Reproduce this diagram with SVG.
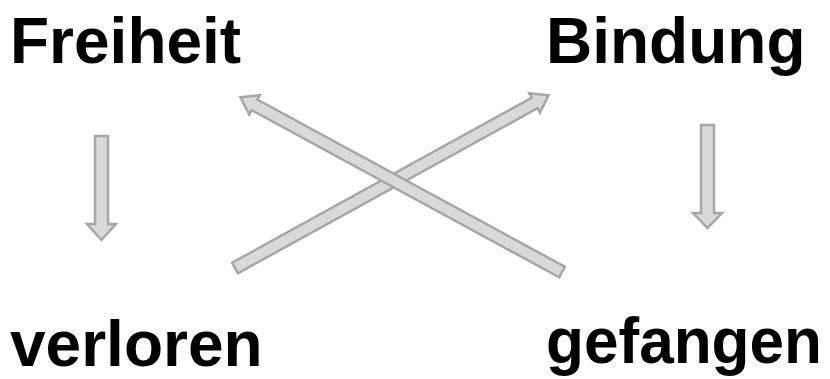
<svg xmlns="http://www.w3.org/2000/svg" width="830" height="379" viewBox="0 0 830 379">
<style>
.lbl{font-family:"Liberation Sans",Arial,sans-serif;font-weight:bold;font-size:64px;fill:#000}
.arr{fill:#d9d9d9;stroke:#a6a6a6;stroke-width:2.5;stroke-linejoin:miter}
</style>
<rect width="830" height="379" fill="#fff"/>
<g id="freiheit"><text class="lbl" x="10" y="63">Freiheit</text></g>
<g id="bindung"><text class="lbl" x="546" y="63">Bindung</text></g>
<g id="verloren"><text class="lbl" x="10" y="366">verloren</text></g>
<g id="gefangen"><text class="lbl" x="546" y="363" textLength="276" lengthAdjust="spacingAndGlyphs">gefangen</text></g>
<g id="connectors">
<polygon class="arr" points="95,136 108,136 108,224 116,224 101.5,240 87,224 95,224"/>
<polygon class="arr" points="701,125 714,125 714,213 722,213 707.5,228 693,213 701,213"/>
<polygon class="arr" transform="translate(235,268) rotate(-28.85)" points="0,-6 342,-6 342,-11 358,0 342,11 342,6 0,6"/>
<polygon class="arr" transform="translate(562,272) rotate(-151.47)" points="0,-6 350,-6 350,-11 366,0 350,11 350,6 0,6"/>
</g>
</svg>
